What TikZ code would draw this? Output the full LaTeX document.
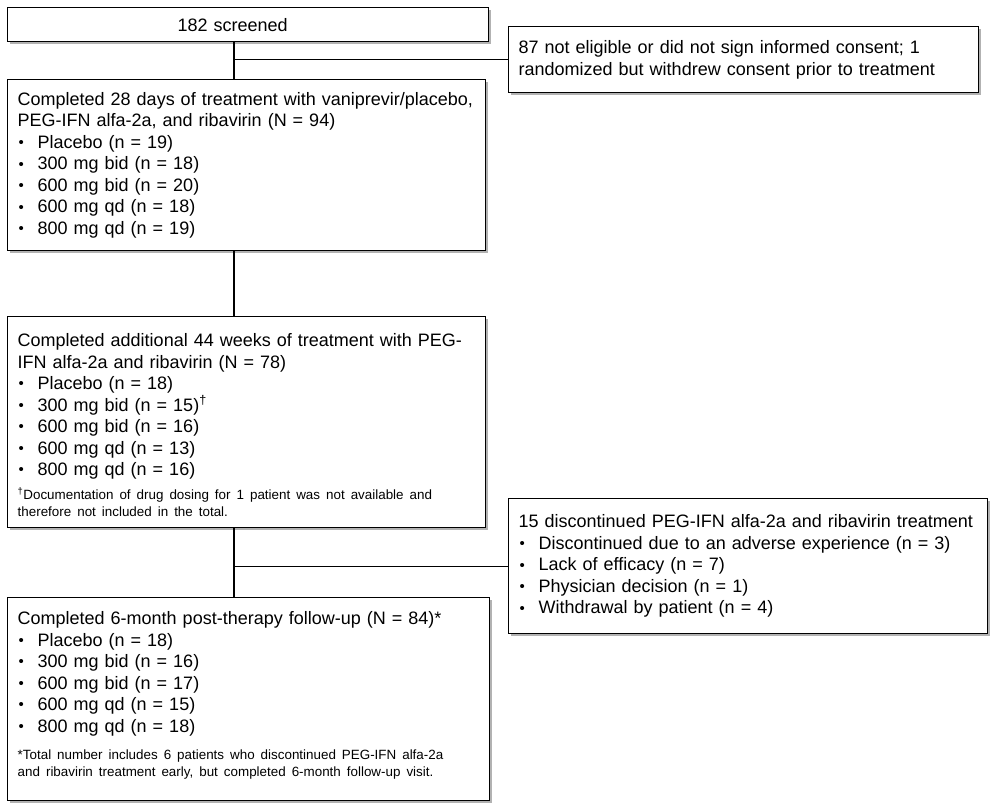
\documentclass[tikz,border=0pt]{standalone}
\usepackage{fontspec}
\setmainfont{Liberation Sans}
\usetikzlibrary{positioning,shadows}

\tikzset{
  flowbox/.style={draw, line width=1.4pt, fill=white, anchor=north west, align=left,
    inner xsep=10pt, inner ysep=0pt, font=\fontsize{18}{21.5}\selectfont,
    drop shadow={shadow xshift=2.5pt, shadow yshift=-2.5pt, opacity=0.3, fill=black}},
  link/.style={line width=1.4pt},
}
\newcommand{\itm}{\makebox[20pt][l]{\hspace{1pt}\raisebox{0.8pt}{\fontsize{15}{15}\selectfont\textbullet}}}
\newcommand{\fnote}{\par\vspace{7pt}\raggedright\fontsize{13.4}{17}\selectfont}
\newcommand{\padbottom}[1]{\par\vspace{#1}\hrule height 0pt}

\begin{document}
\begin{tikzpicture}[x=1pt, y=-1pt]
  \useasboundingbox (0,0) rectangle (996,811);

  % Boxes
  \node[flowbox, minimum width=481pt, minimum height=34pt, text width=461pt] (screened) at (7,7)
    {\hspace*{160pt}182 screened};
  \node[flowbox, minimum width=470pt, minimum height=66pt, text width=450pt] (excluded) at (508,26)
    {87 not eligible or did not sign informed consent; 1\\
     randomized but withdrew consent prior to treatment};
  \node[flowbox, minimum width=478pt, minimum height=171pt, text width=458pt] (lead) at (7,79)
    {Completed 28 days of treatment with vaniprevir/placebo,\\
     PEG-IFN alfa-2a, and ribavirin (N = 94)\\
     \itm Placebo (n = 19)\\
     \itm 300 mg bid (n = 18)\\
     \itm 600 mg bid (n = 20)\\
     \itm 600 mg qd (n = 18)\\
     \itm 800 mg qd (n = 19)};
  \node[flowbox, minimum width=478pt, minimum height=211pt, text width=458pt] (extension) at (7,316)
    {Completed additional 44 weeks of treatment with PEG-\\
     IFN alfa-2a and ribavirin (N = 78)\\
     \itm Placebo (n = 18)\\
     \itm 300 mg bid (n = 15)\textsuperscript{†}\\
     \itm 600 mg bid (n = 16)\\
     \itm 600 mg qd (n = 13)\\
     \itm 800 mg qd (n = 16)
     \fnote \textsuperscript{†}Documentation of drug dosing for 1 patient was not available and\\
     therefore not included in the total.\padbottom{-6pt}};
  \node[flowbox, minimum width=479pt, minimum height=135pt, text width=459pt] (discont) at (508,498)
    {15 discontinued PEG-IFN alfa-2a and ribavirin treatment\\
     \itm Discontinued due to an adverse experience (n = 3)\\
     \itm Lack of efficacy (n = 7)\\
     \itm Physician decision (n = 1)\\
     \itm Withdrawal by patient (n = 4)};
  \node[flowbox, minimum width=482pt, minimum height=203pt, text width=462pt] (followup) at (7,597)
    {Completed 6-month post-therapy follow-up (N = 84)*\\
     \itm Placebo (n = 18)\\
     \itm 300 mg bid (n = 16)\\
     \itm 600 mg bid (n = 17)\\
     \itm 600 mg qd (n = 15)\\
     \itm 800 mg qd (n = 18)
     \fnote\vspace{3pt} *Total number includes 6 patients who discontinued PEG-IFN alfa-2a\\
     and ribavirin treatment early, but completed 6-month follow-up visit.\padbottom{8pt}};

  % Connectors
  \coordinate (trunk) at (234,0);
  \draw[link] (screened.south -| trunk) -- (lead.north -| trunk);
  \draw[link] (excluded.west -| trunk) -- (excluded.west);
  \draw[link] (lead.south -| trunk) -- (extension.north -| trunk);
  \draw[link] (extension.south -| trunk) -- (followup.north -| trunk);
  \draw[link] (discont.west -| trunk) -- (discont.west);
\end{tikzpicture}
\end{document}
